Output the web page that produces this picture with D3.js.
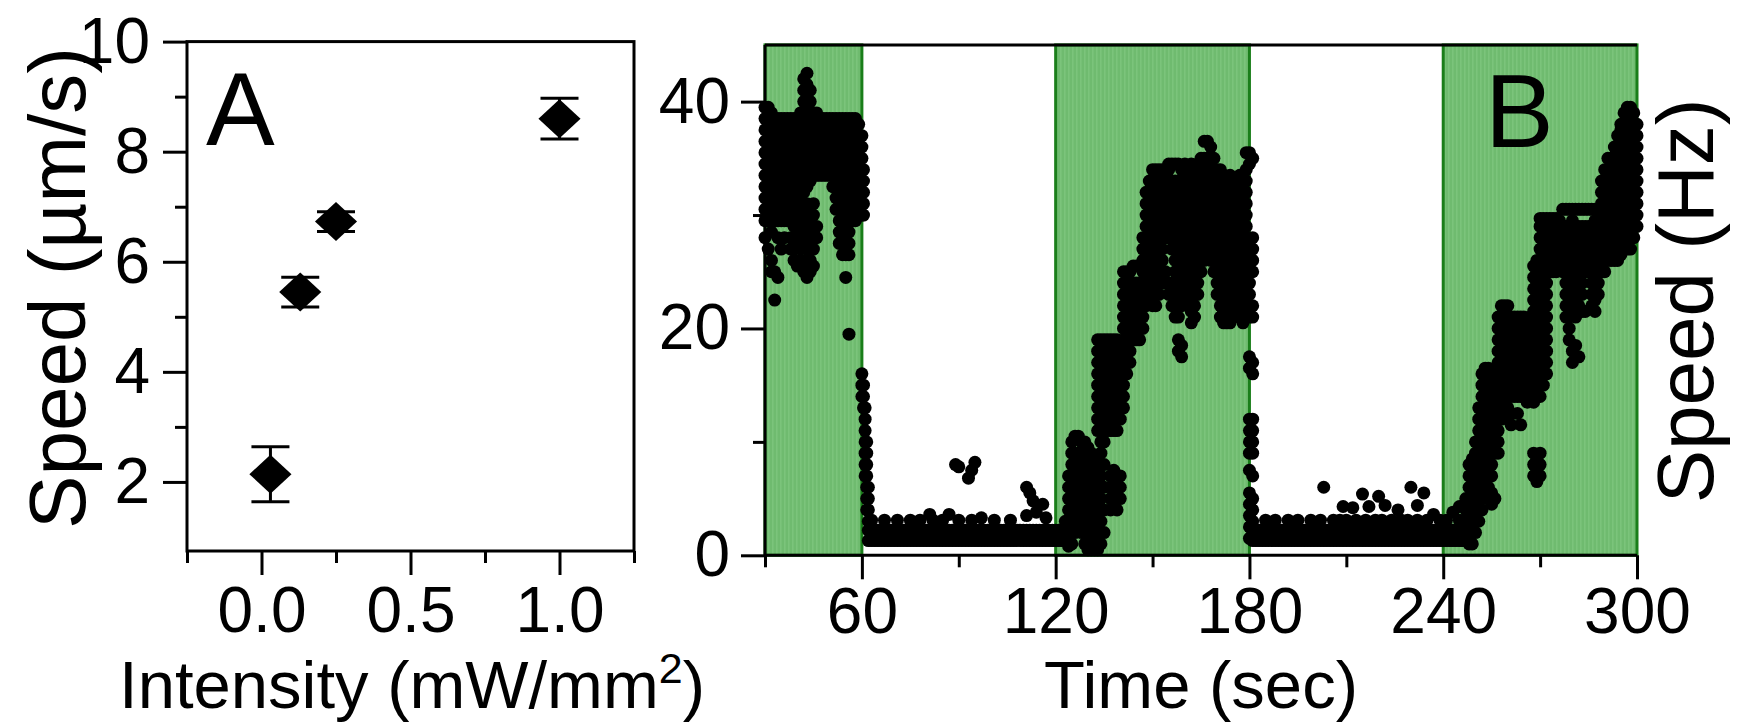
<!DOCTYPE html>
<html>
<head>
<meta charset="utf-8">
<script src="https://cdn.jsdelivr.net/npm/d3@7"></script>
<style>
  body { margin: 0; background: #fff; }
  svg { display: block; }
  text { font-family: "Liberation Sans", Arial, sans-serif; fill: #000; }
</style>
</head>
<body>
<svg width="1738" height="726"></svg>
<script>
// **** data: panel A ****
var intensity = [0.03, 0.13, 0.25, 1.0];
var speedA = [2.14, 5.45, 6.73, 8.60];
var speedAErr = [0.5, 0.27, 0.18, 0.37];

var ticksAx = [0, 0.5, 1.0], minorAx = [-0.25, 0.25, 0.75, 1.25];
var ticksAy = [2, 4, 6, 8, 10], minorAy = [3, 5, 7, 9];

// **** data: panel B (time in s, then speeds in Hz read at that time) ****
var lightOn = [[30, 60], [120, 180], [240, 300]];
var ticksBx = [60, 120, 180, 240, 300], minorBx = [30, 90, 150, 210, 270];
var ticksBy = [0, 20, 40], minorBy = [10, 30];

var speedOn1 = [
  [30,39.5,38.5,37.5,36.5,35.5,34.5,33.5,32.5,31.5,30.5,29.5,28],
  [31,39.5,38.5,37.5,36.5,35.5,34.5,33.5,32.5,31.5,30.5,29.5,27],
  [32,39,38,37,36,35,34,33,32,31,30,28.5,26,25],
  [33,38.5,37.5,36.5,35.5,34.5,33.5,32.5,31.5,30.5,29.5,25,22.5],
  [34,38.5,37.5,36.5,35.5,34.5,33.5,32.5,31.5,30.5,29.5,28,24.5],
  [35,38.5,37.5,36.5,35.5,34.5,33.5,32.5,31.5,30.5,29.5,27],
  [36,38.5,37.5,36.5,35.5,34.5,33.5,32.5,31.5,30.5,29.5,28],
  [37,38.5,37.5,36.5,35.5,34.5,33.5,32.5,31.5,30.5,29.5],
  [38,38.5,37.5,36.5,35.5,34.5,33.5,32.5,31.5,30.5,29.5,28,27],
  [39,38.5,37.5,36.5,35.5,34.5,33.5,32.5,31.5,30.5,29,27,26],
  [40,38.5,37.5,36.5,35.5,34.5,33.5,32.5,31.5,30.5,29.5,28,25.5],
  [41,39,38,37,36,35,34,33,32,31,30,29,27,26],
  [42,42,41,40,39,38,37,36,35,34,33,32,31,30,29,27.5,25],
  [43,42.5,41.5,40.5,39.5,38.5,37.5,36.5,35.5,34.5,33.5,32.5,31,30,28.5,27,26,24.5],
  [44,41,40,39,38,37,36,35,34,33,30,29,28,27,26,25],
  [45,39,38,37,36,35,34,33.5,31,30,28.5,27,25.5],
  [46,39,38,37,36,35,34,33.5,29,28],
  [47,38.5,37.5,36.5,35.5,34.5,33.5],
  [48,38.5,37.5,36.5,35.5,34.5,33.5],
  [49,38.5,37.5,36.5,35.5,34.5,33.5],
  [50,38.5,37.5,36.5,35.5,34.5,33.5],
  [51,38.5,37.5,36.5,35.5,34.5,33.5,32.5],
  [52,38.5,37.5,36.5,35.5,34.5,33.5,32.5,31.5,30.5],
  [53,38.5,37.5,36.5,35.5,34.5,33.5,32.5,31.5,30.5,29.5,28.5,27.5],
  [54,38.5,37.5,36.5,35.5,34.5,33.5,32.5,31.5,30.5,29.5,28.5,27.5,26.5],
  [55,38.5,37.5,36.5,35.5,34.5,33.5,32.5,31.5,30.5,29.5,28.5,27.5,26.5,24.5],
  [56,38.5,37.5,36.5,35.5,34.5,33.5,32.5,31.5,30.5,29.5,28.5,27.5,26.5,19.5],
  [57,38.5,37.5,36.5,35.5,34.5,33.5,32.5,31.5,30.5,29.5],
  [58,38.5,37.5,36.5,35.5,34.5,33.5,32.5,31.5,30.5,29.5],
  [59,38,37,36,35,34,33,32,31,30],
  [60,37,36,35,34,33,32,31,30,16,15,14],
  [60.5,34,33,32,31,30,15,14,13]
];

var speedOff1 = [
  [61,13,12,11,10,9,8,7],[61.5,10,9,8,7,6,5,4],[62,6,5,4,3,2.2,1.3],
  [63,1.3,2.2,3.1],[64,1.3,2.2],[65,1.3,2.2],[66,1.3,2.2],[67,1.3,2.2,3.1],[68,1.3,2.2],
  [69,1.3,2.2],[70,1.3,2.2],[71,1.3,2.2,3.1],[72,1.3,2.2],[73,1.3,2.2],[74,1.3,2.2],
  [75,1.3,2.2,3.1],[76,1.3,2.2],[77,1.3,2.2],[78,1.3,2.2,3.1],[79,1.3,2.2],[80,1.3,2.2],
  [81,1.3,2.2,3.6],[82,1.3,2.2,3.1],[83,1.3,2.2],[84,1.3,2.2],[85,1.3,2.2,3.1],[86,1.3,2.2],
  [87,1.3,2.2,3.6],[88,1.3,2.2],[89,1.3,2.2,8],[90,1.3,2.2,3.1,7.8],[91,1.3,2.2],[92,1.3,2.2],
  [93,1.3,2.2,6.8],[94,1.3,2.2,3.1,7.5],[95,1.3,2.2,8.2],[96,1.3,2.2],[97,1.3,2.2,3.3],
  [98,1.3,2.2],[99,1.3,2.2],[100,1.3,2.2],[101,1.3,2.2,3.1],[102,1.3,2.2],[103,1.3,2.2],
  [104,1.3,2.2],[105,1.3,2.2],[106,1.3,2.2,3.1],[107,1.3,2.2],[108,1.3,2.2],[109,1.3,2.2],
  [110,1.3,2.2],[111,1.3,2.2,3.5,6],[112,1.3,2.2,5.5],[113,1.3,2.2,4.8],[114,1.3,2.2,3.8],
  [115,1.3,2.2],[116,1.3,2.2,4.5],[117,1.3,2.2,3.3],[118,1.3,2.2],[119,1.3,2.2]
];

var speedOn2 = [
  [120,1.3,2.2],[121,1.3,2.2],[122,1.3,2.2],[123,1.3,2.2,3],
  [124,0.8,2,3,4,5,6,7],
  [125,1,2,3,4,5,6,7,8,9,10],
  [126,2,3,4,5,6,7,8,9,10.5],
  [127,3,4,5,6,7,8,9,10.5],
  [128,2,3,4,5,6,7,8,9,10],
  [129,1,2,3,4,5,6,7,8,9,10],
  [130,0.5,1.5,2.5,3.5,4.5,5.5,6.5,7.5,8.5,9.5],
  [131,0.5,1.5,2.5,3.5,5,6,7,8,9],
  [132,0.5,1.5,2.5,3.5,4.5,5.5,6.5,7.5,8.5],
  [133,0.5,1.5,2.5,3.5,4.5,5.5,6.5,7.5,8.5,11,12,13,14,15,16,17,18,19],
  [134,1,2,3,4,5,6,7,8,9,10,11,12,13,14,15,16,17,18,19],
  [135,2,4,6,8,10,11,12,13,14,15,16,17,18,19],
  [136,11,12,13,14,15,16,17,18,19],
  [137,11,12,13,14,15,16,17,18,19,7,6,5,4],
  [138,11,12,13,14,15,16,17,18,19,7.5,6.5,5.5,4.5],
  [139,11,12,13,14,15,16,17,18,19,7,6,5,4],
  [140,12,13,14,15,16,17,18,7,6,5],
  [141,13,14,15,16,17,18,19,20,21,22,23,24,25],
  [142,16,17,18,19,20,21,22,23,24,25],
  [143,17,18,19,20,21,22,23,24,25],
  [144,19,20,21,22,23,24,25.5],
  [145,19,20,21,22,23,24,25.5],
  [146,19,20,21,22,23,24,25.5],
  [147,20,21,22,23,24,25,26,27,28],
  [148,22,23,24,25,26,27,28,29,30,31,32],
  [149,23,24,25,26,27,28,29,30,31,32,33],
  [150,22,23,24,25,26,27,28,29,30,31,32,33,34],
  [151,22,23,24,25,26,27,28,29,30,31,32,33,34],
  [152,23,24,25,26,27,28,29,30,31,32,33,34],
  [153,24,25,26,27,28,29,30,31,32,33,34],
  [154,24,25,28,29,30,31,32,33,34],
  [155,23,24,28,29,30,31,32,33,34,34.5],
  [156,22,23,24,27,28,29,30,31,32,33,34.5],
  [157,21,22,23,24,25,26,27,28,29,30,31,32,33,34.5],
  [158,21,22,23,24,25,26,27,28,29,30,31,32,33,34.5,19,18],
  [159,22,23,24,25,26,27,28,29,30,31,32,33,34,18.5,17.5],
  [160,23,24,25,26,27,28,29,30,31,32,33,34.5],
  [161,22,23,24,25,26,27,28,29,30,31,32,33,34],
  [162,20.5,21.5,22.5,24,25,26,27,28,29,30,31,32,33,34.5],
  [163,21,22,23,24,25,26,27,28,29,30,31,32,33,34],
  [164,23,24,25,26,27,28,29,30,31,32,33,34.5],
  [165,25,26,27,28,29,30,31,32,33,34,35],
  [166,26,27,28,29,30,31,32,33,34,35,36.5],
  [167,27,28,29,30,31,32,33,34,35,36.5],
  [168,26,27,28,29,30,31,32,33,34,35,36],
  [169,25,26,27,28,29,30,31,32,33,34,35],
  [170,23,24,25,26,27,28,29,30,31,32,33,34],
  [171,21,22,23,24,25,26,27,28,29,30,31,32,33,34],
  [172,20.5,21.5,22.5,23.5,24.5,25.5,26.5,27.5,28.5,29.5,30.5,31.5,32.5,33.5],
  [173,20.5,21.5,22.5,23.5,24.5,25.5,26.5,27.5,28.5,29.5,30.5,31.5,32.5,33],
  [174,20.5,21.5,22.5,23.5,24.5,25.5,26.5,27.5,28.5,29.5,30.5,31.5,32.5,33.5],
  [175,21,22,23,24,25,26,27,28,29,30,31,32,33],
  [176,22,23,24,25,26,27,28,29,30,31,32,33],
  [177,21,22,23,24,25,26,27,28,29,30,31,32,33.5],
  [178,20.5,21.5,22.5,23.5,24.5,25.5,26.5,27.5,28.5,29.5,30.5,31.5,32.5,33.5],
  [179,21,22,23,24,25,26,27,28,29,30,31,32,33,34,35.5],
  [180,35.5,34.5,27,26,25,24,23,22,21,17.5,16.5,12,11,10,9,7.5,5.5,4.5,3.5,2.5,1.5],
  [181,35,28,27,26,25,22,21,17,16,12,11,10,9,7,5,4,3,2.2,1.3]
];

var speedOff2 = [
  [182,1.3,2.2],[183,1.3,2.2],[184,1.3,2.2],[185,1.3,2.2,3.1],[186,1.3,2.2],[187,1.3,2.2],
  [188,1.3,2.2,3.1],[189,1.3,2.2],[190,1.3,2.2],[191,1.3,2.2],[192,1.3,2.2,3.1],[193,1.3,2.2],
  [194,1.3,2.2],[195,1.3,2.2,3.1],[196,1.3,2.2],[197,1.3,2.2],[198,1.3,2.2],[199,1.3,2.2,3.1],
  [200,1.3,2.2],[201,1.3,2.2],[202,1.3,2.2,3.1],[203,1.3,2.2,6],[204,1.3,2.2],[205,1.3,2.2],
  [206,1.3,2.2,3.1],[207,1.3,2.2],[208,1.3,2.2,3.1],[209,1.3,2.2,4.3],[210,1.3,2.2,3.1],
  [211,1.3,2.2],[212,1.3,2.2,4.2],[213,1.3,2.2,3.1],[214,1.3,2.2],[215,1.3,2.2,5.4],
  [216,1.3,2.2,3.1],[217,1.3,2.2,4.3],[218,1.3,2.2],[219,1.3,2.2,3.1],[220,1.3,2.2,5.2],
  [221,1.3,2.2,3.1],[222,1.3,2.2,4.4],[223,1.3,2.2],[224,1.3,2.2,3.1],[225,1.3,2.2],
  [226,1.3,2.2,4],[227,1.3,2.2,3.1],[228,1.3,2.2],[229,1.3,2.2,3.1],[230,1.3,2.2,6],
  [231,1.3,2.2],[232,1.3,2.2,3.1,4.4],[233,1.3,2.2],[234,1.3,2.2,5.5],[235,1.3,2.2,3.1],
  [236,1.3,2.2],[237,1.3,2.2,3.6],[238,1.3,2.2],[239,1.3,2.2,3.1]
];

var speedOn3 = [
  [240,1.3,2.2],[241,1.3,2.2,3.1],[242,1.3,2.2],[243,1.3,2.2,3.8],[244,1.3,2.2],
  [245,1.3,2.2,3.1,4.3],[246,1.3,2.2],[247,1.3,2.2,3,4,5],
  [248,1,2,3,4,5,6,7,8],
  [249,1,2,3,4,5,6,7,8.5],
  [250,2,3,4,5,6,7,8,9,10],
  [251,3,4,5,6,7,8,9,10,11,12,13],
  [252,4,5,6,7,8,9,10,11,12,13,14,15,16],
  [253,5.5,6.5,7.5,8.5,9.5,10.5,11.5,12.5,13.5,14.5,15.5,16.5],
  [254,5,6,7,8,9,10,11,12,13,14,15,16.5],
  [255,4.5,5.5,7,8,9,10,11,12,13,14,15,16],
  [256,5,9,10,11,12,13,14,15,16],
  [257,9,10,11,12,13,14,15,16,17,18,19,20,21],
  [258,12,13,14,15,16,17,18,19,20,21,22],
  [259,13,14,15,16,17,18,19,20,21,22],
  [260,12,13,14,15,16,17,18,19,20,21,22],
  [261,11.5,12.5,14,15,16,17,18,19,20,21],
  [262,14,15,16,17,18,19,20,21],
  [263,12.5,14,15,16,17,18,19,20,21],
  [264,11.5,14,15,16,17,18,19,20,21],
  [265,14,15,16,17,18,19,20,21],
  [266,13.5,14.5,15.5,16.5,17.5,18.5,19.5,20.5],
  [267,14,15,16,17,18,19,20,21],
  [268,7,8,9,13.5,14.5,15.5,16.5,17.5,18.5,19.5,20.5,21.5,22.5,23.5,24.5,25.5],
  [269,6.5,7.5,8.5,14,15,16,17,18,19,20,21,22,23,24,25,26],
  [270,7,8,9,14,15,16,17,18,19,20,21,22,23,24,25,26,27,28,29,29.7],
  [271,15,16,17,18,19,20,21,22,23,24,25,26,27,28,29,29.7],
  [272,16,17,18,19,20,21,22,23,24,25,26,27,28,29,29.7],
  [273,25,26,27,28,29,29.7],
  [274,25,26,27,28,29,29.7],
  [275,25,26,27,28,29,29.7],
  [276,25.5,26.5,27.5,28.5,29.5],
  [277,25,26,27,28,29,30.5],
  [278,21,22,23,24,25,26,27,28,29,30.5],
  [279,19,20,21,22,23,24,25,26,27,28,29,30.5],
  [280,17,18,21.5,22.5,23.5,24.5,25.5,26.5,27.5,28.5,29.5,30.5],
  [281,18.5,21,22,23,24,25,26,27,28,29,30.5],
  [282,17.5,22,23,24,25,26,27,28,29,30.5],
  [283,21.5,23,24,25,26,27,28,29,30.5],
  [284,21.5,25,26,27,28,29,30.5],
  [285,25,26,27,28,29,30.5],
  [286,22,23,24,25,26,27,28,29,30.5],
  [287,21.5,22.5,23.5,24.5,25.5,26.5,27.5,28.5,29.5,30.5],
  [288,23,24,25,26,27,28,29,30.5],
  [289,25,26,27,28,29,30,31,32,33],
  [290,25,26,27,28,29,30,31,32,33,34],
  [291,26,27,28,29,30,31,32,33,34,35],
  [292,26,27,28,29,30,31,32,33,34,35],
  [293,26,27,28,29,30,31,32,33,34,35,36],
  [294,26,27,28,29,30,31,32,33,34,35,36,37],
  [295,26.5,27.5,28.5,29.5,30.5,31.5,32.5,33.5,34.5,35.5,36.5,37.5,38],
  [296,27,28,29,30,31,32,33,34,35,36,37,38,39],
  [297,27,28,29,30,31,32,33,34,35,36,37,38,39,39.5],
  [298,27,28,29,30,31,32,33,34,35,36,37,38,39,39.5],
  [299,28,29,30,31,32,33,34,35,36,37,38,39],
  [300,29,30,31,32,33,34,35,36,37,38]
];

// **** scales ****
var svg = d3.select('svg');

var xA = d3.scaleLinear().domain([-0.25, 1.25]).range([187, 634]);
var yA = d3.scaleLinear().domain([0.745, 10]).range([551, 41.6]);

var xB = d3.scaleLinear().domain([30, 300]).range([765, 1637]);
var yB = d3.scaleLinear().domain([0, 45]).range([555.3, 44.9]);

var tickFont = 64;

function styleAxis(g) {
  g.select('.domain').remove();
  g.selectAll('line').attr('stroke', '#000').attr('stroke-width', 3);
  g.selectAll('text').attr('font-size', tickFont)
    .attr('font-family', '"Liberation Sans", Arial, sans-serif').attr('fill', '#000');
}

// **** panel A ****
svg.append('g').attr('transform', 'translate(0,' + yA(0.745) + ')')
  .call(d3.axisBottom(xA).tickValues(minorAx).tickSize(12).tickFormat(''))
  .call(styleAxis);
svg.append('g').attr('transform', 'translate(0,' + yA(0.745) + ')')
  .call(d3.axisBottom(xA).tickValues(ticksAx).tickSize(24).tickPadding(12).tickFormat(d3.format('.1f')))
  .call(styleAxis);
svg.append('g').attr('transform', 'translate(' + xA(-0.25) + ',0)')
  .call(d3.axisLeft(yA).tickValues(minorAy).tickSize(12).tickFormat(''))
  .call(styleAxis);
svg.append('g').attr('transform', 'translate(' + xA(-0.25) + ',0)')
  .call(d3.axisLeft(yA).tickValues(ticksAy).tickSize(24).tickPadding(13))
  .call(styleAxis);

svg.append('rect')
  .attr('x', xA(-0.25)).attr('y', yA(10))
  .attr('width', xA(1.25) - xA(-0.25)).attr('height', yA(0.745) - yA(10))
  .attr('fill', 'none').attr('stroke', '#000').attr('stroke-width', 3);

var diamond = {
  draw: function(ctx, size) {
    var h = Math.sqrt(size) / 2, w = h * 1.08;
    ctx.moveTo(0, -h); ctx.lineTo(w, 0); ctx.lineTo(0, h); ctx.lineTo(-w, 0); ctx.closePath();
  }
};

var pointsA = intensity.map(function(d, i) { return { x: d, y: speedA[i], e: speedAErr[i] }; });

var err = svg.append('g').selectAll('g').data(pointsA).enter().append('g')
  .attr('stroke', '#000').attr('stroke-width', 3);
err.append('line')
  .attr('x1', function(d) { return xA(d.x); }).attr('x2', function(d) { return xA(d.x); })
  .attr('y1', function(d) { return yA(d.y + d.e); }).attr('y2', function(d) { return yA(d.y - d.e); });
err.append('line')
  .attr('x1', function(d) { return xA(d.x) - 19; }).attr('x2', function(d) { return xA(d.x) + 19; })
  .attr('y1', function(d) { return yA(d.y + d.e); }).attr('y2', function(d) { return yA(d.y + d.e); });
err.append('line')
  .attr('x1', function(d) { return xA(d.x) - 19; }).attr('x2', function(d) { return xA(d.x) + 19; })
  .attr('y1', function(d) { return yA(d.y - d.e); }).attr('y2', function(d) { return yA(d.y - d.e); });

svg.append('g').selectAll('path').data(pointsA).enter().append('path')
  .attr('d', d3.symbol().type(diamond).size(1520))
  .attr('transform', function(d) { return 'translate(' + xA(d.x) + ',' + yA(d.y) + ')'; })
  .attr('fill', '#000');

svg.append('text').attr('x', 206).attr('y', 145).attr('font-size', 103).text('A');

svg.append('text')
  .attr('transform', 'translate(85,288) rotate(-90)')
  .attr('text-anchor', 'middle').attr('font-size', 80)
  .text('Speed (\u00b5m/s)');

var tA = svg.append('text').attr('x', 412).attr('y', 708)
  .attr('text-anchor', 'middle').attr('font-size', 67);
tA.append('tspan').text('Intensity (mW/mm');
tA.append('tspan').attr('font-size', 43).attr('dy', -25).text('2');
tA.append('tspan').attr('dy', 25).text(')');

// **** panel B ****
var defs = svg.append('defs');
var pat = defs.append('pattern').attr('id', 'stripes')
  .attr('patternUnits', 'userSpaceOnUse').attr('width', 4).attr('height', 10);
pat.append('rect').attr('width', 4).attr('height', 10).attr('fill', '#6fbb6f');
pat.append('rect').attr('width', 1.6).attr('height', 10).attr('fill', '#7bc47b');

svg.append('g').selectAll('rect').data(lightOn).enter().append('rect')
  .attr('x', function(d) { return xB(d[0]); })
  .attr('y', yB(45))
  .attr('width', function(d) { return xB(d[1]) - xB(d[0]); })
  .attr('height', yB(0) - yB(45))
  .attr('fill', 'url(#stripes)');

svg.append('g').selectAll('rect').data(lightOn).enter().append('rect')
  .attr('x', function(d) { return xB(d[0]); })
  .attr('y', yB(45))
  .attr('width', function(d) { return xB(d[1]) - xB(d[0]); })
  .attr('height', yB(0) - yB(45))
  .attr('fill', 'none').attr('stroke', '#1a7e1a').attr('stroke-width', 3);

var allB = [];
[speedOn1, speedOff1, speedOn2, speedOff2, speedOn3].forEach(function(seg) {
  seg.forEach(function(row) {
    for (var i = 1; i < row.length; i++) allB.push({ t: row[0], v: row[i] });
  });
});

svg.append('g').selectAll('circle').data(allB).enter().append('circle')
  .attr('cx', function(d) { return xB(d.t); })
  .attr('cy', function(d) { return yB(d.v); })
  .attr('r', 6.5)
  .attr('fill', '#000');

// frame lines of B
svg.append('line')
  .attr('x1', xB(30)).attr('x2', xB(300)).attr('y1', yB(45)).attr('y2', yB(45))
  .attr('stroke', '#000').attr('stroke-width', 3);
svg.append('line')
  .attr('x1', xB(30)).attr('x2', xB(30)).attr('y1', yB(45)).attr('y2', yB(0))
  .attr('stroke', '#000').attr('stroke-width', 3);
svg.append('line')
  .attr('x1', xB(30)).attr('x2', xB(300)).attr('y1', yB(0)).attr('y2', yB(0))
  .attr('stroke', '#000').attr('stroke-width', 3);

svg.append('g').attr('transform', 'translate(0,' + yB(0) + ')')
  .call(d3.axisBottom(xB).tickValues(minorBx).tickSize(12).tickFormat(''))
  .call(styleAxis);
svg.append('g').attr('transform', 'translate(0,' + yB(0) + ')')
  .call(d3.axisBottom(xB).tickValues(ticksBx).tickSize(24).tickPadding(8))
  .call(styleAxis);
svg.append('g').attr('transform', 'translate(' + xB(30) + ',0)')
  .call(d3.axisLeft(yB).tickValues(minorBy).tickSize(12).tickFormat(''))
  .call(styleAxis);
svg.append('g').attr('transform', 'translate(' + xB(30) + ',0)')
  .call(d3.axisLeft(yB).tickValues(ticksBy).tickSize(24).tickPadding(11))
  .call(styleAxis);

svg.append('text').attr('x', 1485).attr('y', 147).attr('font-size', 103).text('B');

svg.append('text')
  .attr('transform', 'translate(1713,301) rotate(-90)')
  .attr('text-anchor', 'middle').attr('font-size', 80)
  .text('Speed (Hz)');

svg.append('text').attr('x', 1201).attr('y', 708)
  .attr('text-anchor', 'middle').attr('font-size', 67)
  .text('Time (sec)');
</script>
</body>
</html>
